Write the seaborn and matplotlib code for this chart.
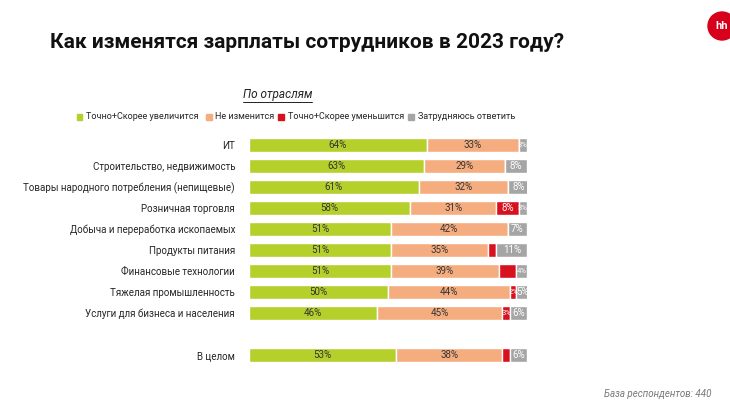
import matplotlib.pyplot as plt
import seaborn as sns
import numpy as np
from matplotlib.patches import Circle

sns.set_theme(style="white", font="Roboto")

categories = ["ИТ", "Строительство, недвижимость", "Товары народного потребления (непищевые)",
              "Розничная торговля", "Добыча и переработка ископаемых", "Продукты питания",
              "Финансовые технологии", "Тяжелая промышленность", "Услуги для бизнеса и населения",
              "В целом"]
increase = [64, 63, 61, 58, 51, 51, 51, 50, 46, 53]
same = [33, 29, 32, 31, 42, 35, 39, 44, 45, 38]
decrease = [0, 0, 0, 8, 0, 3, 6, 2, 3, 3]
unsure = [3, 8, 8, 3, 7, 11, 4, 5, 6, 6]
decrease_shown = [False, False, False, True, False, False, False, True, True, False]
series_names = ["Точно+Скорее увеличится", "Не изменится", "Точно+Скорее уменьшится", "Затрудняюсь ответить"]
colors = ["#b5cf2b", "#f5ad7f", "#d7111e", "#a5a5a5"]
text_colors = ["#333333", "#333333", "white", "white"]

ypos = list(range(9)) + [10]

fig = plt.figure(figsize=(7.3, 4.13), dpi=100)
ax = fig.add_axes([0.341, 0.115, 0.381, 0.559])

data = np.array([increase, same, decrease, unsure], dtype=float)
left = np.zeros(len(categories))
for i, (vals, c) in enumerate(zip(data, colors)):
    ax.barh(ypos, vals, left=left, color=c, height=0.68)
    for j, v in enumerate(vals):
        show = v > 0 and (i != 2 or decrease_shown[j])
        if show:
            ax.text(left[j] + v / 2, ypos[j], f"{int(v)}%", ha="center", va="center",
                    fontsize=7 if v >= 5 else 5.5, color=text_colors[i])
    left += vals

ax.set_xlim(0, 100)
ax.set_ylim(10.5, -0.5)
ax.set_yticks(ypos)
ax.set_yticklabels(categories, fontsize=7, color="#222222")
ax.set_xticks([])
ax.tick_params(axis="y", length=0, pad=10)
sns.despine(ax=ax, left=True, bottom=True)

fig.text(0.068, 0.898, "Как изменятся зарплаты сотрудников в 2023 году?", fontsize=15,
         fontweight="bold", color="#111111", va="center")
fig.text(0.38, 0.77, "По отраслям", fontsize=8.5, style="italic", color="#222222",
         va="center", ha="center")
fig.add_artist(plt.Line2D([0.333, 0.428], [0.753, 0.753], color="#222222", lw=0.7))

lx = [0.105, 0.282, 0.381, 0.559]
for x, name, c in zip(lx, series_names, colors):
    fig.patches.append(plt.Rectangle((x, 0.710), 0.008, 0.014, color=c, transform=fig.transFigure))
    fig.text(x + 0.013, 0.717, name, fontsize=6.5, va="center", color="#222222")

fig.text(0.975, 0.045, "База респондентов: 440", fontsize=7, style="italic",
         color="#777777", ha="right", va="center")

fig.add_artist(Circle((722, 387), 14, transform=None, color="#d6001c"))
fig.text(722 / 730, 387 / 413, "hh", fontsize=8, fontweight="bold", color="white",
         ha="center", va="center")

fig.savefig("out.png", dpi=100)
